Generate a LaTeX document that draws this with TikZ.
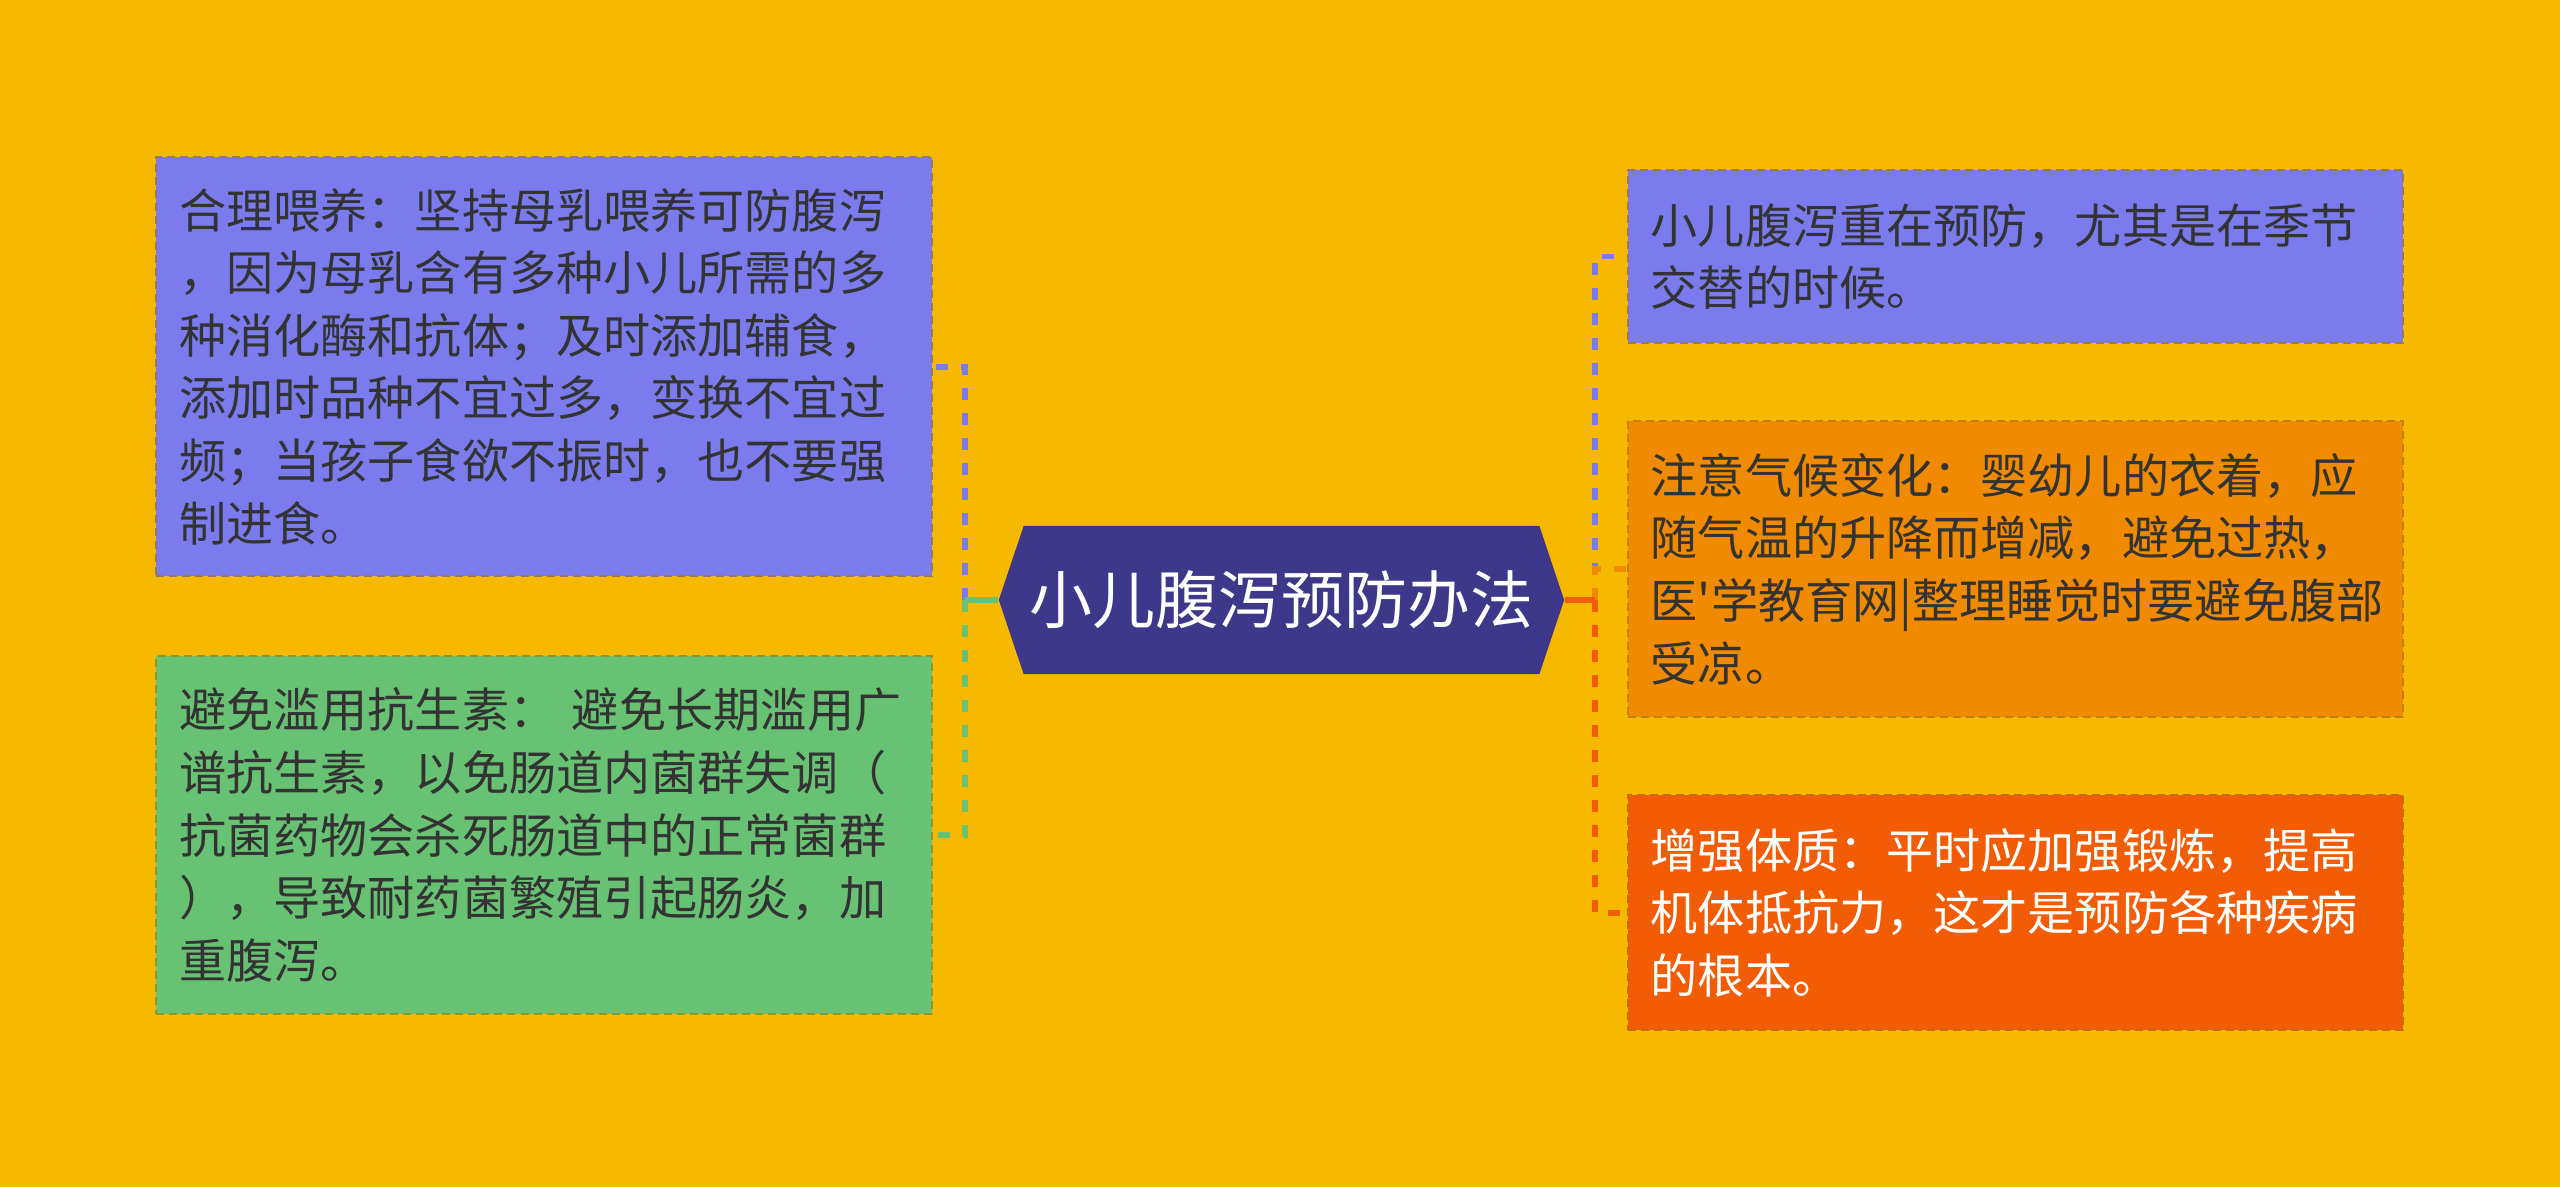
\documentclass[tikz,border=0pt]{standalone}
\usepackage{fontspec}
\newfontfamily\cjk{Noto Sans CJK SC}[Ligatures=TeXOff]
\usetikzlibrary{positioning, shapes.symbols}

\definecolor{bgyellow}{HTML}{F6B900}
\definecolor{leafpurple}{HTML}{7B7BEE}
\definecolor{leafgreen}{HTML}{68C274}
\definecolor{leaforange}{HTML}{F08A00}
\definecolor{leafred}{HTML}{F25C05}
\definecolor{rootblue}{HTML}{3E388A}
\definecolor{txtgray}{HTML}{333333}

\tikzset{
  leaf/.style={draw=#1!50!bgyellow!80!black, fill=#1, line width=0.6pt,
    dash pattern=on 0.08cm off 0.05cm,
    minimum width=7.75cm, text width=7.29cm, inner xsep=0.23cm, inner ysep=0.2cm,
    align=left, text=txtgray, font=\cjk\fontsize{13.4pt}{17.8pt}\selectfont},
  root/.style={signal, signal to=west and east, signal pointer angle=143,
    fill=rootblue, minimum width=5.65cm, minimum height=1.48cm, inner sep=0pt,
    text=white, font=\cjk\fontsize{17.9pt}{20pt}\selectfont},
  link/.style={draw=#1, line width=1.7pt, dash pattern=on 0.12cm off 0.13cm},
  stub/.style={draw=#1, line width=1.7pt},
}

\begin{document}
\begin{tikzpicture}[x=0.01cm, y=-0.01cm]
  \fill[bgyellow] (0,0) rectangle (2560,1187);
  \useasboundingbox (0,0) rectangle (2560,1187);

  % centre
  \node[root] (root) at (1281.5,600) {小儿腹泻预防办法};

  % left branches
  \node[leaf=leafpurple, minimum height=4.19cm] (feed) at (544,366.5)
    {合理喂养：坚持母乳喂养可防腹泻\\，因为母乳含有多种小儿所需的多\\种消化酶和抗体；及时添加辅食，\\添加时品种不宜过多，变换不宜过\\频；当孩子食欲不振时，也不要强\\制进食。};
  \node[leaf=leafgreen, minimum height=3.58cm] (drugs) at (544,835)
    {避免滥用抗生素： 避免长期滥用广\\谱抗生素，以免肠道内菌群失调（\\抗菌药物会杀死肠道中的正常菌群\\），导致耐药菌繁殖引起肠炎，加\\重腹泻。};

  % right branches
  \node[leaf=leafpurple, minimum height=1.73cm] (season) at (2015.5,256.5)
    {小儿腹泻重在预防，尤其是在季节\\交替的时候。};
  \node[leaf=leaforange, minimum height=2.96cm] (climate) at (2015.5,569)
    {注意气候变化：婴幼儿的衣着，应\\随气温的升降而增减，避免过热，\\医'学教育网|整理睡觉时要避免腹部\\受凉。};
  \node[leaf=leafred, minimum height=2.35cm, text=white] (body) at (2015.5,912.5)
    {增强体质：平时应加强锻炼，提高\\机体抵抗力，这才是预防各种疾病\\的根本。};

  % connectors
  \coordinate (ljoint) at (965,600);
  \coordinate (rjoint) at (1595,600);
  \draw[link=leafpurple] (ljoint) |- (feed.east);
  \draw[link=leafgreen] (ljoint) |- (drugs.east);
  \draw[stub=leafgreen] (root.west) -- (ljoint);
  \draw[link=leafpurple] (rjoint) |- (season.west);
  \draw[link=leaforange] (rjoint) |- (climate.west);
  \draw[link=leafred] (rjoint) |- (body.west);
  \draw[stub=leafred] (root.east) -- (rjoint);
\end{tikzpicture}
\end{document}
